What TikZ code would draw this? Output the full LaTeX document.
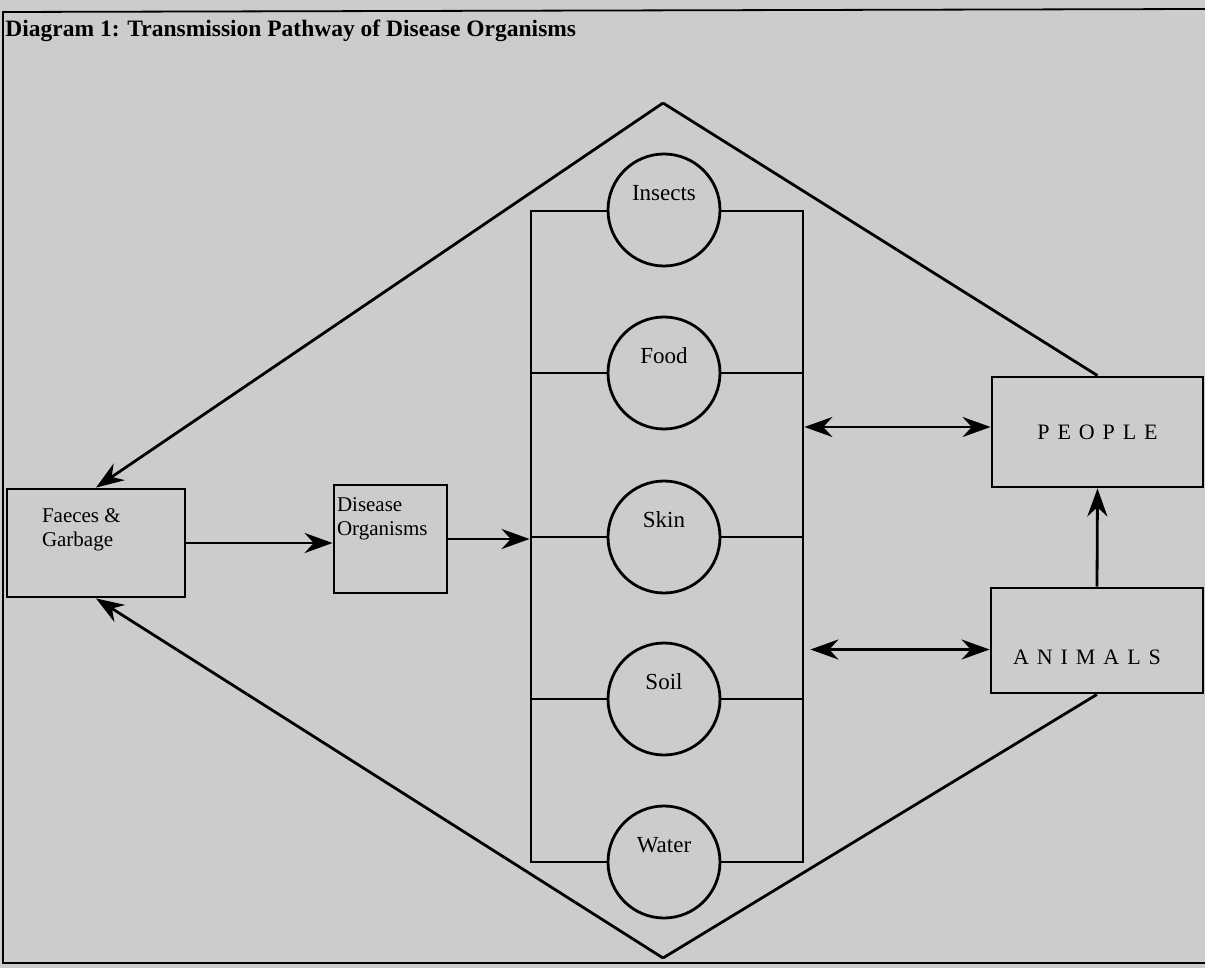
\documentclass[tikz,border=0pt]{standalone}
\usepackage{fontspec}
\setmainfont{Liberation Serif}
\newfontfamily\spaced[LetterSpace=36]{Liberation Serif}
\usetikzlibrary{arrows.meta,positioning}
\definecolor{paper}{gray}{0.80}

\begin{document}
\begin{tikzpicture}[x=1pt, y=-1pt, line width=2.8pt, >={Stealth[length=28pt,width=20pt]},
    font=\fontsize{21}{23.5}\selectfont]
  \tikzset{
    blk/.style={draw, rectangle, fill=paper, inner sep=0pt},
    sm/.style ={draw, circle, fill=paper, minimum size=112pt, inner sep=0pt},
    spc/.style={font=\spaced\fontsize{22}{22}\selectfont},
    tag/.style={anchor=north west, align=left, inner sep=0pt},
    lbl/.style={yshift=17pt, font=\fontsize{23}{23}\selectfont}
  }

  \fill[paper] (0,0) rectangle (1205,968);
  \useasboundingbox (0,0) rectangle (1205,968);
  \draw[line width=1.8pt] (1205,9) -- (3,12) -- (3,963) -- (1205,963);
  \node[anchor=base west, inner sep=0pt, font=\bfseries\fontsize{23.5}{24}\selectfont] (title) at (4,37)
    {Diagram 1: Transmission Pathway of Disease Organisms};

  %% --- left boxes ---
  \node[blk, minimum width=178pt, minimum height=108pt,
        label={[tag, xshift=35pt, yshift=-20pt]north west:Faeces \&\\Garbage}] (faeces) at (96,543) {};
  \node[blk, minimum width=113pt, minimum height=108pt,
        label={[tag, xshift=3pt, yshift=-13pt]north west:Disease\\Organisms}] (disease) at (390.5,539) {};

  %% --- carriers ---
  \node[draw, rectangle, minimum width=272pt, minimum height=651pt] (chan) at (667,536.5) {};
  \node[sm, label={[lbl]center:Insects}] (insects) at (664,210) {};
  \node[sm, label={[lbl]center:Food}]    (food)    at (664,373) {};
  \node[sm, label={[lbl]center:Skin}]    (skin)    at (664,537) {};
  \node[sm, label={[lbl]center:Soil}]    (soil)    at (664,699) {};
  \node[sm, label={[lbl]center:Water}]   (water)   at (664,862) {};
  \foreach \c in {food,skin,soil}{
    \draw (chan.west |- \c) -- (\c.west);
    \draw (\c.east) -- (\c.east -| chan.east);
  }

  %% --- right boxes ---
  \node[blk, spc, minimum width=211pt, minimum height=110pt] (people) at (1097.5,432) {PEOPLE};
  \node[blk, minimum width=212pt, minimum height=105pt,
        label={[spc, yshift=-17pt, xshift=-10pt]center:ANIMALS}] (animals) at (1097,640.5) {};

  %% --- pathways ---
  \coordinate (top) at (663,103);
  \coordinate (bot) at (663,958);
  \draw[->] (top) -- (faeces.north);
  \draw (top) -- (people.north);
  \draw[->] (bot) -- (faeces.south);
  \draw (bot) -- (animals.south);
  \draw[->] (faeces.east) -- (faeces.east -| disease.west);
  \draw[->] (disease.east) -- (disease.east -| chan.west);
  \draw[<->] ([yshift=5pt]people.west -| chan.east) -- ([yshift=5pt]people.west);
  \draw[<->] ([xshift=6pt,yshift=-9pt]animals.west -| chan.east) -- ([yshift=-9pt]animals.west);
  \draw[->] (animals.north) -- (people.south);
\end{tikzpicture}
\end{document}
